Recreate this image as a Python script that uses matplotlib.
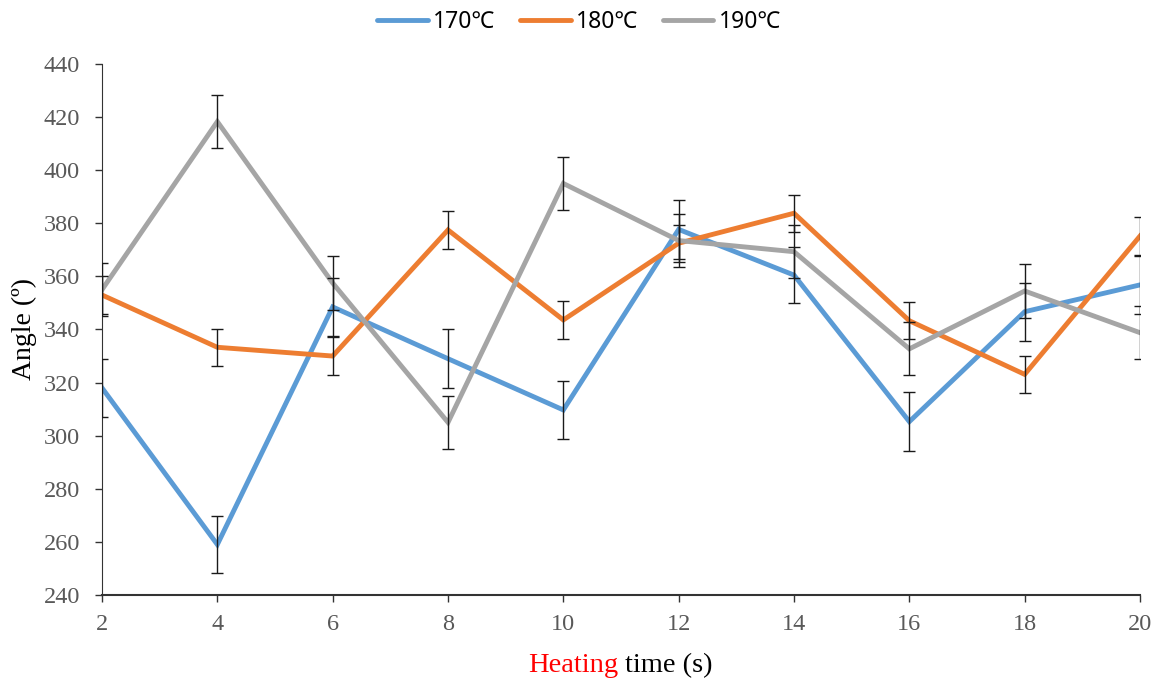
import numpy as np
import matplotlib.pyplot as plt

# 数据
time_s = [2, 4, 6, 8, 10, 12, 14, 16, 18, 20]
angle_170 = [318, 259, 348.5, 329, 309.7, 377.7, 360.5, 305.3, 346.7, 356.8]
angle_180 = [353, 333.3, 330, 377.5, 343.6, 372.5, 383.8, 343.3, 323.1, 375.2]
angle_190 = [355, 418.3, 357.5, 305, 395, 373.5, 369.3, 332.7, 354.5, 338.8]
err_170 = [11, 10.8, 11, 11, 10.8, 11, 10.7, 11, 11, 11]
err_180 = [7, 7, 7, 7, 7, 7, 7, 7, 7, 7]
err_190 = [10, 10, 10, 10, 10, 10, 10, 10, 10, 10]
labels = ['170℃', '180℃', '190℃']
colors = ['#5B9BD5', '#ED7D31', '#A5A5A5']

plt.rcParams['font.family'] = ['Liberation Serif', 'DejaVu Serif']
plt.rcParams['xtick.direction'] = 'out'
plt.rcParams['ytick.direction'] = 'out'

fig = plt.figure(figsize=(11.56, 6.8), dpi=100)
ax = fig.add_axes([102 / 1156, 1 - 595 / 680, (1140 - 102) / 1156, (595 - 64) / 680])

series = [angle_170, angle_180, angle_190]
errs = [err_170, err_180, err_190]
lines = []
for vals, e, c, lab in zip(series, errs, colors, labels):
    ln, = ax.plot(time_s, vals, color=c, lw=3.5, label=lab, zorder=3,
                  solid_joinstyle='miter')
    ax.errorbar(time_s, vals, yerr=e, fmt='none', ecolor='#1a1a1a',
                elinewidth=1.0, capsize=4, capthick=1.0, zorder=4)
    lines.append(ln)

ax.set_xlim(2, 20)
ax.set_ylim(240, 440)
ax.set_xticks(time_s)
ax.set_yticks(np.arange(240, 441, 20))

for s in ['top', 'right']:
    ax.spines[s].set_visible(False)
ax.spines['left'].set_color('#333333')
ax.spines['bottom'].set_color('#333333')
ax.spines['bottom'].set_linewidth(1.5)
ax.tick_params(axis='both', length=5, width=1, color='#333333',
               labelcolor='#595959', labelsize=17.5)
ax.tick_params(axis='x', pad=9)
ax.tick_params(axis='y', pad=11)

# y轴标签
fig.text(24 / 1156, 1 - 329 / 680, 'Angle (º)', fontsize=20, color='black',
         rotation=90, ha='center', va='center')

# x轴标签: "Heating" 红色, "time (s)" 黑色
fig.text(618 / 1156, 1 - 672 / 680, 'Heating', color='red', fontsize=20.5,
         ha='right', va='baseline')
fig.text(625 / 1156, 1 - 672 / 680, 'time (s)', color='black', fontsize=20.5,
         ha='left', va='baseline')

leg = fig.legend(handles=lines, loc='center', bbox_to_anchor=(579 / 1156, 1 - 22 / 680),
                 ncol=3, frameon=False, handlelength=2.2, columnspacing=1.1,
                 handletextpad=0.22,
                 prop={'family': ['Noto Sans', 'Noto Sans CJK SC'], 'size': 16.5})
for h in leg.get_lines():
    h.set_solid_capstyle('round')
    h.set_linewidth(3.5)

plt.savefig('out.png', dpi=100)
